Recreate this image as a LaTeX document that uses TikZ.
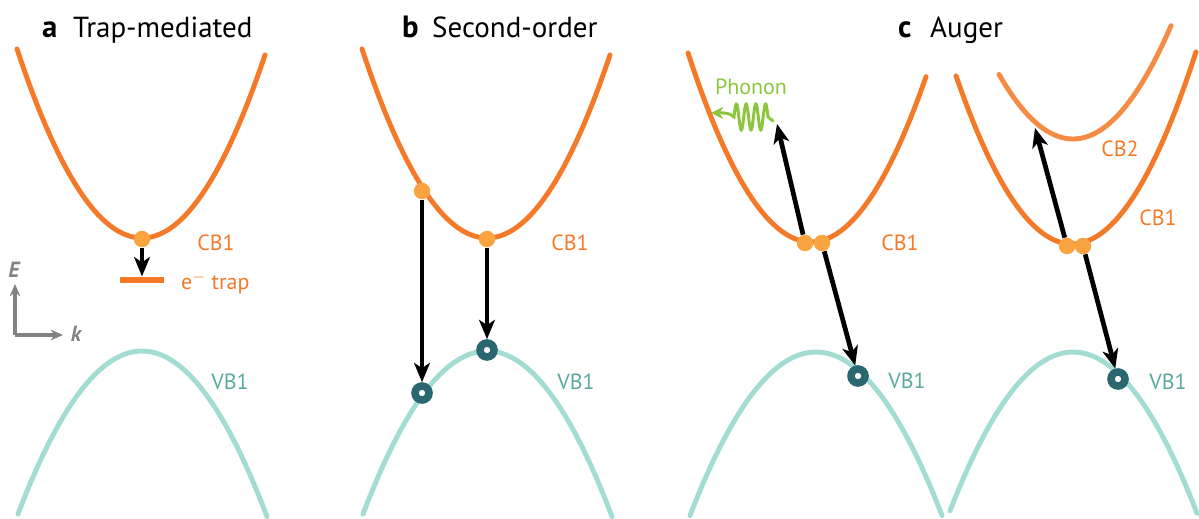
\documentclass[tikz,border=0pt]{standalone}
\usepackage{fontspec}
\setmainfont{PT Sans}
\usetikzlibrary{arrows.meta}

\definecolor{cborange}{HTML}{F47A2A}
\definecolor{cbtwo}{HTML}{F58C45}
\definecolor{elecfill}{HTML}{F9A441}
\definecolor{vbteal}{HTML}{A3DCD3}
\definecolor{holeteal}{HTML}{2A6770}
\definecolor{vbtext}{HTML}{5AA99E}
\definecolor{phonongreen}{HTML}{8CC63F}
\definecolor{axisgrey}{HTML}{808285}

\begin{document}
\begin{tikzpicture}[x=0.02cm,y=-0.02cm,
    cb/.style={cborange, line width=2.8pt, line cap=round},
    vb/.style={vbteal, line width=2.8pt, line cap=round},
    elec/.style={circle, fill=elecfill, minimum size=0.33cm, inner sep=0pt},
    hole/.style={circle, draw=holeteal, fill=white, line width=4.3pt, minimum size=0.28cm, inner sep=0pt},
    trans/.style={-{Stealth[length=11pt,width=9pt,inset=3pt]}, line width=2.7pt, black},
    cblabel/.style={cborange, font=\fontsize{12.5}{14}\selectfont},
    vblabel/.style={vbtext, font=\fontsize{12.5}{14}\selectfont},
    title/.style={anchor=base west, font=\fontsize{16.5}{19}\selectfont},
    letter/.style={anchor=base west, font=\fontsize{17.5}{19}\selectfont\bfseries}]
  \useasboundingbox (0,0) rectangle (1199,519);

  % titles
  \node[letter] (la) at (36,38) {a};
  \node[title] (ta) at (67,38) {Trap-mediated};
  \node[letter] (lb) at (396,38) {b};
  \node[title] (tb) at (426,38) {Second-order};
  \node[letter] (lc) at (892,38) {c};
  \node[title] (tc) at (924,38) {Auger};

  % bands, panel a
  \draw[cb] plot[domain=17:265, samples=60] (\x, {238-0.0121*(\x-142)^2});
  \draw[vb] plot[domain=18:267, samples=60] (\x, {351+0.0106*(\x-142)^2});
  % bands, panel b
  \draw[cb] plot[domain=362:610, samples=60] (\x, {238-0.0121*(\x-487)^2});
  \draw[vb] plot[domain=363:612, samples=60] (\x, {351+0.0106*(\x-487)^2});
  % bands, panel c
  \draw[cb] plot[domain=688:926, samples=60] (\x, {242-0.0125*(\x-811)^2});
  \draw[vb] plot[domain=690:942, samples=60] (\x, {352+0.0103*(\x-816)^2});
  \draw[cb] plot[domain=956:1196, samples=60] (\x, {244-0.0125*(\x-1072)^2});
  \draw[cbtwo, line width=2.8pt, line cap=round] plot[domain=999:1171, samples=60] (\x, {139-0.0118*(\x-1073)^2});
  \draw[vb] plot[domain=950:1197, samples=60] (\x, {352+0.0105*(\x-1073)^2});

  % band labels
  \node[cblabel] (cba) at (216,243) {CB1};
  \node[vblabel] (vba) at (230,382) {VB1};
  \node[cblabel] (cbb) at (570,243) {CB1};
  \node[vblabel] (vbb) at (576,382) {VB1};
  \node[cblabel] (cbc) at (900,243) {CB1};
  \node[vblabel] (vbc) at (907,381) {VB1};
  \node[cblabel] (cbd) at (1158,218) {CB1};
  \node[cblabel] (cbtwo-label) at (1120,149) {CB2};
  \node[vblabel] (vbd) at (1168,382) {VB1};

  % axes
  \coordinate (origin) at (15,335);
  \coordinate (e-end) at (15,284);
  \coordinate (k-end) at (63,335);
  \draw[axisgrey, line width=1.8pt, -{Stealth[length=7pt,width=6pt]}] (origin) -- (e-end);
  \draw[axisgrey, line width=1.8pt, -{Stealth[length=7pt,width=6pt]}] (origin) -- (k-end);
  \node[axisgrey, font=\fontsize{12.5}{14}\selectfont\bfseries\itshape] (elabel) at (14,270) {E};
  \node[axisgrey, font=\fontsize{12.5}{14}\selectfont\bfseries\itshape] (klabel) at (76,334) {k};

  % panel a: trap
  \node[elec] (ea) at (142,239) {};
  \node[fill=cborange, minimum width=0.9cm, minimum height=0.13cm, inner sep=0pt] (trap) at (142,280) {};
  \node[cblabel, anchor=west] (traplabel) at (175,283) {e$^-$ trap};
  \draw[trans] (ea) -- (trap);

  % panel b: direct
  \node[elec] (eb1) at (422,191) {};
  \node[elec] (eb2) at (487,239) {};
  \node[hole] (hb1) at (422,393) {};
  \node[hole] (hb2) at (487,350) {};
  \draw[trans] (eb1) -- (hb1);
  \draw[trans] (eb2) -- (hb2);

  % panel c: Auger with phonon
  \node[elec] (ec1) at (805,243) {};
  \node[elec] (ec2) at (822,243) {};
  \node[hole] (hc) at (858,376) {};
  \coordinate (hot-c) at (777,124);
  \draw[trans] (ec1) -- (hot-c);
  \draw[trans] (ec2) -- (hc);
  \node[phonongreen, font=\fontsize{12.5}{14}\selectfont] (phonon) at (751,87) {Phonon};
  \coordinate (ph-start) at (773,121);
  \coordinate (ph-tip) at (711,113);
  \draw[phonongreen, line width=1.7pt, line cap=round, -{Stealth[length=7pt,width=7pt]}]
    (ph-start) -- plot[domain=0:1260, samples=90] ({768-\x/1260*34}, {117-13*sin(\x)})
    .. controls (729,112) and (722,113) .. (ph-tip);

  % panel c: Auger with CB2
  \node[elec] (ed1) at (1067,246) {};
  \node[elec] (ed2) at (1083,246) {};
  \node[hole] (hd) at (1118,379) {};
  \coordinate (hot-d) at (1035,128);
  \draw[trans] (ed1) -- (hot-d);
  \draw[trans] (ed2) -- (hd);
\end{tikzpicture}
\end{document}
